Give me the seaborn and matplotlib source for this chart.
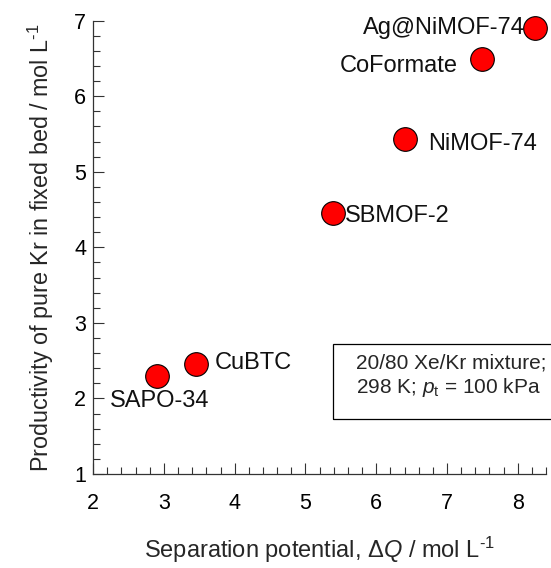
import matplotlib
matplotlib.use("Agg")
import matplotlib.pyplot as plt
import seaborn as sns
import pandas as pd
from matplotlib.patches import Rectangle
from matplotlib.ticker import MultipleLocator

materials = ["SAPO-34", "CuBTC", "SBMOF-2", "NiMOF-74", "CoFormate", "Ag@NiMOF-74"]
delta_q = [2.90, 3.45, 5.39, 6.41, 7.49, 8.25]
productivity = [2.30, 2.46, 4.46, 5.44, 6.50, 6.91]

# label anchor positions (data coords) and alignment
label_x = [2.24, 3.72, 5.56, 6.73, 7.155, 8.10]
label_y = [1.97, 2.47, 4.41, 5.37, 6.40, 6.91]
label_ha = ["left", "left", "left", "left", "right", "right"]

df = pd.DataFrame({"material": materials, "dq": delta_q, "prod": productivity})

sns.set_style("ticks")
plt.rcParams["font.family"] = ["Liberation Sans", "DejaVu Sans"]
plt.rcParams["mathtext.fontset"] = "custom"
plt.rcParams["mathtext.rm"] = "Liberation Sans"
plt.rcParams["mathtext.it"] = "Liberation Sans:italic"
plt.rcParams["mathtext.bf"] = "Liberation Sans:bold"

fig = plt.figure(figsize=(5.51, 5.68), dpi=100)
ax = fig.add_axes([0.169, 0.1655, 0.822, 0.798])

sns.scatterplot(data=df, x="dq", y="prod", ax=ax, s=290, color="#ff0000",
                edgecolor="black", linewidth=0.8, zorder=5, clip_on=False, legend=False)

for m, lx, ly, ha in zip(materials, label_x, label_y, label_ha):
    ax.text(lx, ly, m, ha=ha, va="center", fontsize=17, color="#111111")

ax.set_xlim(2, 8.4)
ax.set_ylim(1, 7)
ax.xaxis.set_major_locator(MultipleLocator(1))
ax.xaxis.set_minor_locator(MultipleLocator(0.2))
ax.yaxis.set_major_locator(MultipleLocator(1))
ax.yaxis.set_minor_locator(MultipleLocator(0.2))
ax.tick_params(which="both", direction="in", colors="#333333", width=0.8,
               labelcolor="black", labelsize=15.5)
ax.tick_params(which="major", length=8)
ax.tick_params(which="minor", length=5)
ax.tick_params(axis="x", which="major", pad=14)
ax.tick_params(axis="y", which="major", pad=5)
for s in ["top", "right"]:
    ax.spines[s].set_visible(False)
for s in ["left", "bottom"]:
    ax.spines[s].set_color("#333333")
    ax.spines[s].set_linewidth(0.9)

ax.set_xlabel("Separation potential, Δ$\\it{Q}$ / mol L$^{\\text{-1}}$", fontsize=17, labelpad=15)
ax.set_ylabel("Productivity of pure Kr in fixed bed / mol L$^{\\text{-1}}$", fontsize=16.8, labelpad=13)

# annotation box
rect = Rectangle((5.385, 1.73), 4.0, 0.99, fill=False, edgecolor="black",
                 linewidth=0.9, clip_on=False, zorder=3)
ax.add_patch(rect)
ax.text(5.71, 2.47, "20/80 Xe/Kr mixture;", ha="left", va="center", fontsize=15)
ax.text(5.71, 2.14, "298 K; $\\it{p}_\\mathrm{t}$ = 100 kPa", ha="left", va="center", fontsize=15)

fig.savefig("out.png", dpi=100)
